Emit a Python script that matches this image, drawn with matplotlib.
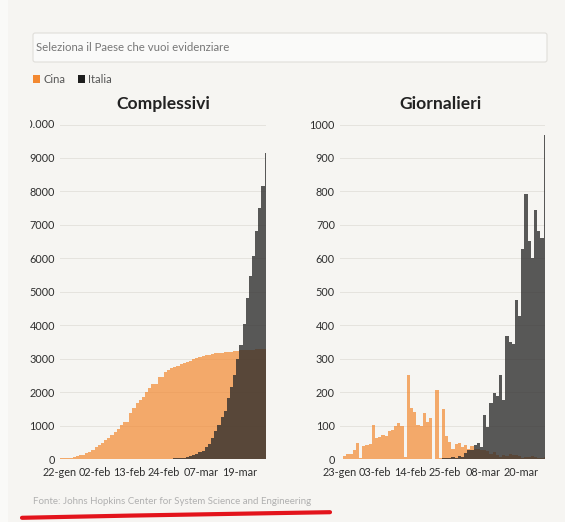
import numpy as np
import pandas as pd
import matplotlib
matplotlib.use("Agg")
import matplotlib.pyplot as plt
import matplotlib.dates as mdates
from matplotlib.ticker import FixedLocator, FuncFormatter
from matplotlib.patches import FancyBboxPatch, Rectangle
from matplotlib.transforms import Bbox, TransformedBbox, ScaledTranslation
from matplotlib.lines import Line2D

plt.rcParams['font.family'] = ['Lato', 'DejaVu Sans']

# ---------------- data ----------------
start_cum = "2020-01-22"
start_daily = "2020-01-23"
end_date = "2020-03-27"

cina_cumulativi = [
    17, 18, 26, 42, 56, 82, 131, 133, 171, 213,
    259, 361, 425, 490, 562, 632, 717, 804, 904, 1011, 1111, 1116, 1368, 1520,
    1662, 1765, 1863, 2002, 2114, 2236, 2236, 2441, 2443, 2593, 2663, 2715,
    2744, 2788, 2835,
    2870, 2912, 2943, 2981, 3012, 3042, 3070, 3097, 3120, 3136, 3158, 3169,
    3176, 3189, 3199, 3213, 3226, 3237, 3245, 3248, 3255, 3261, 3270, 3277,
    3281, 3285, 3291,
]
italia_cumulativi = [0] * 30 + [
    1, 2, 3, 7, 10, 12, 17, 21, 29,
    34, 52, 79, 107, 148, 197, 233, 366, 463, 631, 827, 1016, 1266, 1441,
    1809, 2158, 2503, 2978, 3405, 4032, 4825, 5476, 6077, 6820, 7503, 8165, 9134,
]
cina_giornalieri = [
    1, 8, 16, 14, 26, 49, 2, 38, 42,
    46, 102, 64, 65, 72, 70, 85, 87, 100, 107, 100, 5, 252, 152, 142, 103,
    98, 139, 112, 122, 0, 205, 2, 150, 70, 52, 29, 44, 47,
    35, 42, 31, 38, 31, 30, 28, 27, 23, 16, 22, 11, 7, 13, 10, 14, 13, 11,
    8, 3, 7, 6, 9, 7, 4, 4, 6,
]
italia_giornalieri = [0] * 29 + [
    1, 1, 1, 4, 3, 2, 5, 4, 8,
    5, 18, 27, 28, 41, 49, 36, 133, 97, 168, 196, 189, 250, 175, 368, 349,
    345, 475, 427, 627, 793, 651, 601, 743, 683, 662, 969,
]

ticks_cum = ["2020-01-22", "2020-02-02", "2020-02-13", "2020-02-24", "2020-03-07", "2020-03-19"]
ticks_daily = ["2020-01-23", "2020-02-03", "2020-02-14", "2020-02-25", "2020-03-08", "2020-03-20"]
yticks_cum = [0, 1000, 2000, 3000, 4000, 5000, 6000, 7000, 8000, 9000]
yticks_daily = [0, 100, 200, 300, 400, 500, 600, 700, 800, 900, 1000]
MESI = ["gen", "feb", "mar", "apr", "mag", "giu", "lug", "ago", "set", "ott", "nov", "dic"]

dates_cum = pd.date_range(start_cum, end_date, freq="D")
dates_daily = pd.date_range(start_daily, end_date, freq="D")

# ---------------- style ----------------
W, H = 565, 522
BG = '#f6f5f2'
ORANGE = '#f38931'
DARK = '#2c2c2c'
GRID = '#e5e3de'
LABEL = '#2e2e2e'
FS = 7.8

fig = plt.figure(figsize=(W / 100, H / 100), dpi=100)
fig.patch.set_facecolor(BG)

# faint lighter strip at the left edge of the screenshot
fig.add_artist(Rectangle((0, 0), 8 / W, 1, transform=fig.transFigure,
                         fc='#fafaf8', ec='none', zorder=0))

# selection box
box = FancyBboxPatch((33 / W, 1 - 62 / H), (547 - 33) / W, (62 - 33) / H,
                     boxstyle="round,pad=0,rounding_size=0.004",
                     transform=fig.transFigure, fc='#fafaf9', ec='#e0deda', lw=0.8)
fig.add_artist(box)
fig.text(36 / W, 1 - 47.5 / H, "Seleziona il Paese che vuoi evidenziare",
         ha='left', va='center', fontsize=8.2, color='#777777')

# legend
fig.add_artist(Rectangle((33 / W, 1 - 83 / H), 7 / W, 8 / H, transform=fig.transFigure,
                         fc=ORANGE, ec='none'))
fig.text(43 / W, 1 - 79.5 / H, "Cina", ha='left', va='center', fontsize=8, color='#555555')
fig.add_artist(Rectangle((78 / W, 1 - 83 / H), 7 / W, 8 / H, transform=fig.transFigure,
                         fc='#1e1e1e', ec='none'))
fig.text(88 / W, 1 - 79.5 / H, "Italia", ha='left', va='center', fontsize=8, color='#555555')

ax1 = fig.add_axes([60 / W, 1 - 459 / H, 206 / W, (459 - 124.5) / H])
ax2 = fig.add_axes([340 / W, 1 - 459 / H, 205 / W, (459 - 124.5) / H])


def date_fmt(x, pos):
    d = mdates.num2date(x)
    return f"{d.day:02d}-{MESI[d.month - 1]}"


def style(ax, first, xt, yt, ymax):
    ax.set_facecolor('none')
    for s in ax.spines.values():
        s.set_visible(False)
    ax.set_axisbelow(True)
    ax.yaxis.grid(True, color=GRID, lw=0.7)
    ax.xaxis.grid(False)
    ax.tick_params(length=0, labelsize=FS, labelcolor=LABEL)
    ax.tick_params(axis='y', pad=3.6)
    ax.tick_params(axis='x', pad=6)
    ax.set_ylim(0, ymax)
    ax.set_xlim(mdates.date2num(pd.Timestamp(first)),
                mdates.date2num(pd.Timestamp(end_date)) + 0.45)
    ax.xaxis.set_major_locator(FixedLocator([mdates.date2num(pd.Timestamp(t)) for t in xt]))
    ax.xaxis.set_major_formatter(FuncFormatter(date_fmt))
    ax.yaxis.set_major_locator(FixedLocator(yt))
    ax.yaxis.set_major_formatter(FuncFormatter(lambda v, p: f"{int(v)}"))


bar_kw = dict(width=1.0, align='edge', lw=0, antialiased=False)

# cumulative
ax1.bar(dates_cum, cina_cumulativi, color=ORANGE, alpha=0.7, **bar_kw)
ax1.bar(dates_cum, italia_cumulativi, color=DARK, alpha=0.78, **bar_kw)
style(ax1, start_cum, ticks_cum, yticks_cum, 10000)
ax1.axhline(10000, color=GRID, lw=0.7, zorder=0)

# top label "10.000" partly hidden by the container edge
t10 = fig.text(0, 10000, "10.000", ha='right', va='center', fontsize=FS, color=LABEL,
               transform=ax1.get_yaxis_transform() + ScaledTranslation(-3.6 / 72, 0, fig.dpi_scale_trans))
t10.set_clip_box(TransformedBbox(Bbox.from_extents(30 / W, 0, 1, 1), fig.transFigure))
t10.set_clip_on(True)

# daily
ax2.bar(dates_daily, cina_giornalieri, color=ORANGE, alpha=0.7, **bar_kw)
ax2.bar(dates_daily, italia_giornalieri, color=DARK, alpha=0.78, **bar_kw)
style(ax2, start_daily, ticks_daily, yticks_daily, 1000)

# titles
fig.text(163 / W, 1 - 104 / H, "Complessivi", ha='center', va='center',
         fontsize=12.6, fontweight='bold', color='#222222')
fig.text(441 / W, 1 - 104 / H, "Giornalieri", ha='center', va='center',
         fontsize=12.6, fontweight='bold', color='#222222')

# source
fig.text(33 / W, 1 - 502 / H, "Fonte: Johns Hopkins Center for System Science and Engineering",
         ha='left', va='center', fontsize=7, color='#b0b0b0')

# red hand-drawn underline
xs = [22, 60, 130, 200, 270, 330]
ys = [517.8, 517.0, 515.6, 514.4, 513.2, 512.2]
fig.add_artist(Line2D([x / W for x in xs], [1 - y / H for y in ys], transform=fig.transFigure,
                      color='#e3141c', lw=3.0, solid_capstyle='round'))

fig.savefig("out.png", dpi=100, facecolor=BG)
